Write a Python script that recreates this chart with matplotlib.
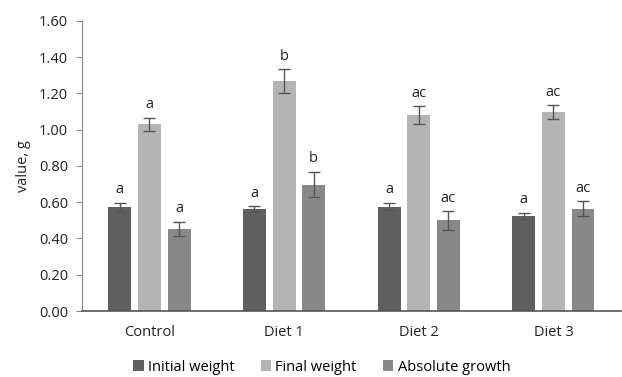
import numpy as np
import matplotlib
matplotlib.use("Agg")
import matplotlib.pyplot as plt

plt.rcParams['font.family'] = ['Open Sans', 'DejaVu Sans']

groups = ['Control', 'Diet 1', 'Diet 2', 'Diet 3']
series = ['Initial weight', 'Final weight', 'Absolute growth']
initial = [0.571, 0.563, 0.576, 0.526]
final = [1.030, 1.267, 1.080, 1.096]
growth = [0.452, 0.697, 0.499, 0.563]
initial_err = [0.025, 0.016, 0.020, 0.017]
final_err = [0.035, 0.066, 0.048, 0.039]
growth_err = [0.040, 0.070, 0.051, 0.042]
initial_lbl = ['a', 'a', 'a', 'a']
final_lbl = ['a', 'b', 'ac', 'ac']
growth_lbl = ['a', 'b', 'ac', 'ac']

colors = ['#5f5f5f', '#b4b4b4', '#888888']

fig = plt.figure(figsize=(6.22, 3.77), dpi=100)
ax = fig.add_axes([0.132, 0.175, 0.866, 0.770])

x = np.arange(len(groups))
w = 0.17
step = 0.22
data = [(initial, initial_err, initial_lbl),
        (final, final_err, final_lbl),
        (growth, growth_err, growth_lbl)]
for i, (vals, errs, lbls) in enumerate(data):
    pos = x + (i - 1) * step
    ax.bar(pos, vals, width=w, color=colors[i], label=series[i],
           yerr=errs, capsize=4,
           error_kw=dict(ecolor='#555555', elinewidth=1.0, capthick=1.0))
    for p, v, e, t in zip(pos, vals, errs, lbls):
        ax.text(p, v + e + 0.03, t, ha='center', va='bottom',
                fontsize=10.5, color='#222222')

ax.set_xlim(-0.5, 3.5)
ax.set_ylim(0, 1.6)
ax.set_yticks(np.arange(0, 1.61, 0.2))
ax.set_yticklabels([f'{v:.2f}' for v in np.arange(0, 1.61, 0.2)])
ax.set_xticks(x)
ax.set_xticklabels(groups)
ax.tick_params(axis='x', length=0, pad=10, labelsize=10.5, colors='#222222')
ax.tick_params(axis='y', length=4, width=0.8, color='#888888', pad=6,
               labelsize=10.5, labelcolor='#222222')
ax.set_ylabel('value, g', fontsize=10.5, color='#222222', labelpad=6)

for s in ['top', 'right']:
    ax.spines[s].set_visible(False)
ax.spines['left'].set_color('#8a8a8a')
ax.spines['bottom'].set_color('#555555')
ax.spines['bottom'].set_linewidth(1.2)

ax.legend(loc='center', bbox_to_anchor=(0.445, -0.193), ncol=3,
          frameon=False, fontsize=10.5, handlelength=0.7, handleheight=0.7,
          handletextpad=0.3, columnspacing=1.8, borderpad=0)

fig.savefig('out.png', dpi=100)
